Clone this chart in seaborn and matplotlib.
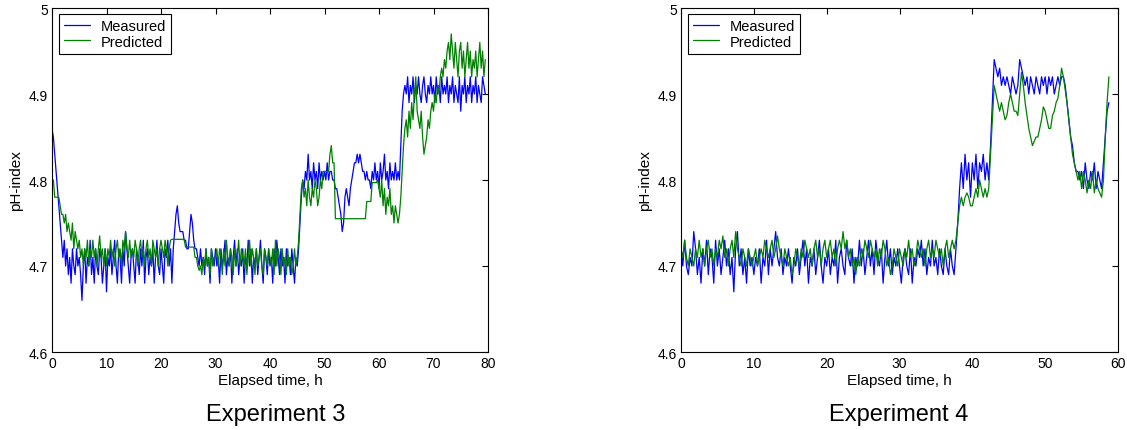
import numpy as np
import pandas as pd
import matplotlib
matplotlib.use("Agg")
import matplotlib.pyplot as plt
import seaborn as sns

# Sampling interval of the logged pH values, hours
STEP_H = 0.25

# Experiment 3 (0 .. 79.5 h)
exp3_measured = [
    4.86, 4.85, 4.83, 4.81, 4.79, 4.77, 4.75, 4.73, 4.71, 4.73, 4.70, 4.72, 4.69, 4.71, 4.68, 4.72, 4.70, 4.69, 4.72, 4.70,
    4.71, 4.69, 4.66, 4.70, 4.72, 4.68, 4.71, 4.70, 4.73, 4.69, 4.71, 4.68, 4.72, 4.70, 4.69, 4.72, 4.71, 4.68, 4.70, 4.72,
    4.67, 4.71, 4.70, 4.72, 4.69, 4.71, 4.73, 4.70, 4.68, 4.72, 4.71, 4.68, 4.72, 4.70, 4.74, 4.72, 4.70, 4.68, 4.71, 4.72,
    4.70, 4.68, 4.72, 4.71, 4.69, 4.72, 4.70, 4.73, 4.68, 4.71, 4.72, 4.69, 4.71, 4.70, 4.72, 4.68, 4.71, 4.73, 4.70, 4.69,
    4.72, 4.70, 4.68, 4.72, 4.71, 4.73, 4.70, 4.72, 4.68, 4.72, 4.74, 4.76, 4.77, 4.75, 4.74, 4.74, 4.74, 4.73, 4.73, 4.72,
    4.72, 4.74, 4.76, 4.75, 4.73, 4.72, 4.72, 4.71, 4.70, 4.72, 4.70, 4.71, 4.69, 4.72, 4.70, 4.71, 4.68, 4.72, 4.71, 4.70,
    4.72, 4.70, 4.71, 4.68, 4.72, 4.70, 4.71, 4.73, 4.69, 4.71, 4.70, 4.72, 4.68, 4.71, 4.73, 4.70, 4.72, 4.69, 4.71, 4.70,
    4.72, 4.68, 4.71, 4.70, 4.73, 4.70, 4.72, 4.68, 4.71, 4.70, 4.72, 4.69, 4.71, 4.73, 4.70, 4.68, 4.72, 4.71, 4.69, 4.72,
    4.70, 4.71, 4.68, 4.72, 4.70, 4.73, 4.71, 4.69, 4.72, 4.70, 4.71, 4.68, 4.72, 4.70, 4.71, 4.69, 4.72, 4.70, 4.68, 4.71,
    4.70, 4.72, 4.75, 4.78, 4.80, 4.79, 4.81, 4.80, 4.83, 4.80, 4.81, 4.79, 4.82, 4.80, 4.81, 4.79, 4.82, 4.80, 4.81, 4.80,
    4.81, 4.80, 4.82, 4.80, 4.81, 4.81, 4.80, 4.80, 4.79, 4.79, 4.78, 4.77, 4.76, 4.74, 4.75, 4.78, 4.79, 4.78, 4.77, 4.79,
    4.80, 4.81, 4.82, 4.82, 4.83, 4.82, 4.83, 4.82, 4.81, 4.81, 4.80, 4.81, 4.80, 4.80, 4.79, 4.81, 4.80, 4.82, 4.80, 4.81,
    4.79, 4.82, 4.80, 4.81, 4.83, 4.80, 4.81, 4.79, 4.82, 4.80, 4.81, 4.80, 4.82, 4.80, 4.81, 4.80, 4.84, 4.88, 4.90, 4.91,
    4.90, 4.92, 4.89, 4.91, 4.90, 4.92, 4.89, 4.91, 4.90, 4.92, 4.90, 4.89, 4.91, 4.92, 4.90, 4.89, 4.91, 4.90, 4.92, 4.90,
    4.91, 4.89, 4.92, 4.90, 4.91, 4.89, 4.92, 4.90, 4.91, 4.90, 4.92, 4.89, 4.91, 4.90, 4.92, 4.89, 4.91, 4.90, 4.89, 4.92,
    4.88, 4.91, 4.90, 4.92, 4.89, 4.91, 4.90, 4.92, 4.89, 4.91, 4.90, 4.92, 4.89, 4.91, 4.90, 4.89, 4.92, 4.91, 4.90,
]
exp3_predicted = [
    4.80, 4.80, 4.78, 4.78, 4.78, 4.78, 4.77, 4.76, 4.76, 4.75, 4.76, 4.74, 4.75, 4.74, 4.73, 4.75, 4.72, 4.74, 4.73, 4.72,
    4.73, 4.71, 4.72, 4.70, 4.72, 4.71, 4.73, 4.70, 4.72, 4.71, 4.73, 4.71, 4.72, 4.70, 4.72, 4.735, 4.71, 4.72, 4.70, 4.72,
    4.70, 4.72, 4.71, 4.73, 4.71, 4.72, 4.70, 4.72, 4.73, 4.71, 4.72, 4.70, 4.73, 4.72, 4.74, 4.72, 4.71, 4.73, 4.71, 4.72,
    4.71, 4.73, 4.72, 4.70, 4.72, 4.73, 4.71, 4.72, 4.70, 4.72, 4.73, 4.71, 4.72, 4.70, 4.73, 4.72, 4.71, 4.72, 4.70, 4.72,
    4.73, 4.72, 4.71, 4.73, 4.72, 4.70, 4.72, 4.73, 4.731, 4.731, 4.731, 4.731, 4.731, 4.731, 4.731, 4.731, 4.731, 4.731, 4.722, 4.722,
    4.722, 4.722, 4.722, 4.722, 4.722, 4.71, 4.71, 4.70, 4.695, 4.70, 4.69, 4.71, 4.70, 4.72, 4.70, 4.71, 4.69, 4.72, 4.70, 4.71,
    4.71, 4.72, 4.70, 4.72, 4.71, 4.69, 4.72, 4.70, 4.73, 4.71, 4.70, 4.72, 4.71, 4.69, 4.72, 4.70, 4.71, 4.73, 4.70, 4.72,
    4.71, 4.70, 4.72, 4.69, 4.71, 4.73, 4.70, 4.72, 4.71, 4.69, 4.72, 4.70, 4.71, 4.72, 4.70, 4.69, 4.72, 4.71, 4.70, 4.72,
    4.71, 4.70, 4.72, 4.69, 4.73, 4.70, 4.72, 4.71, 4.69, 4.72, 4.70, 4.71, 4.69, 4.72, 4.70, 4.71, 4.69, 4.70, 4.72, 4.70,
    4.71, 4.73, 4.76, 4.79, 4.80, 4.78, 4.79, 4.77, 4.80, 4.78, 4.77, 4.79, 4.78, 4.80, 4.79, 4.77, 4.78, 4.80, 4.79, 4.81,
    4.81, 4.81, 4.81, 4.81, 4.83, 4.84, 4.82, 4.82, 4.755, 4.755, 4.755, 4.755, 4.755, 4.755, 4.755, 4.755, 4.755, 4.755, 4.755, 4.755,
    4.755, 4.755, 4.755, 4.755, 4.755, 4.755, 4.755, 4.755, 4.755, 4.755, 4.755, 4.775, 4.775, 4.775, 4.775, 4.797, 4.797, 4.797, 4.797, 4.80,
    4.79, 4.78, 4.80, 4.77, 4.79, 4.76, 4.78, 4.77, 4.79, 4.76, 4.77, 4.75, 4.77, 4.76, 4.75, 4.76, 4.78, 4.81, 4.84, 4.86,
    4.87, 4.85, 4.88, 4.86, 4.89, 4.87, 4.90, 4.92, 4.88, 4.87, 4.86, 4.88, 4.85, 4.83, 4.84, 4.85, 4.87, 4.86, 4.88, 4.89,
    4.88, 4.90, 4.89, 4.91, 4.90, 4.92, 4.93, 4.92, 4.94, 4.93, 4.95, 4.96, 4.94, 4.97, 4.95, 4.93, 4.96, 4.94, 4.92, 4.95,
    4.96, 4.93, 4.95, 4.92, 4.94, 4.96, 4.93, 4.95, 4.92, 4.94, 4.93, 4.95, 4.92, 4.94, 4.96, 4.93, 4.95, 4.92, 4.94,
]

# Experiment 4 (0 .. 58.75 h)
exp4_measured = [
    4.72, 4.70, 4.73, 4.70, 4.69, 4.71, 4.70, 4.74, 4.72, 4.69, 4.71, 4.68, 4.72, 4.70, 4.73, 4.69, 4.72, 4.71, 4.68, 4.73,
    4.70, 4.72, 4.69, 4.71, 4.73, 4.70, 4.72, 4.69, 4.71, 4.67, 4.72, 4.74, 4.70, 4.72, 4.69, 4.71, 4.68, 4.72, 4.70, 4.71,
    4.69, 4.71, 4.70, 4.72, 4.68, 4.71, 4.70, 4.73, 4.69, 4.72, 4.70, 4.72, 4.74, 4.71, 4.70, 4.72, 4.69, 4.71, 4.70, 4.72,
    4.70, 4.68, 4.71, 4.70, 4.72, 4.69, 4.71, 4.73, 4.70, 4.72, 4.68, 4.71, 4.70, 4.72, 4.69, 4.71, 4.73, 4.70, 4.68, 4.71,
    4.70, 4.72, 4.69, 4.71, 4.70, 4.73, 4.68, 4.71, 4.72, 4.70, 4.69, 4.73, 4.71, 4.70, 4.72, 4.68, 4.71, 4.70, 4.73, 4.70,
    4.72, 4.69, 4.71, 4.73, 4.70, 4.72, 4.69, 4.73, 4.71, 4.70, 4.72, 4.68, 4.71, 4.73, 4.70, 4.72, 4.69, 4.71, 4.70, 4.72,
    4.70, 4.68, 4.71, 4.72, 4.70, 4.69, 4.72, 4.68, 4.71, 4.70, 4.72, 4.71, 4.73, 4.70, 4.72, 4.69, 4.71, 4.70, 4.73, 4.70,
    4.71, 4.69, 4.72, 4.70, 4.69, 4.72, 4.70, 4.69, 4.72, 4.70, 4.69, 4.72, 4.75, 4.79, 4.82, 4.79, 4.83, 4.80, 4.82, 4.78,
    4.82, 4.80, 4.83, 4.79, 4.82, 4.81, 4.83, 4.80, 4.82, 4.80, 4.84, 4.89, 4.94, 4.93, 4.92, 4.93, 4.91, 4.92, 4.91, 4.92,
    4.91, 4.90, 4.92, 4.91, 4.90, 4.91, 4.94, 4.93, 4.92, 4.91, 4.92, 4.90, 4.92, 4.91, 4.90, 4.92, 4.91, 4.90, 4.92, 4.91,
    4.92, 4.90, 4.92, 4.91, 4.92, 4.90, 4.91, 4.92, 4.91, 4.92, 4.92, 4.91, 4.89, 4.87, 4.85, 4.84, 4.82, 4.81, 4.81, 4.80,
    4.81, 4.79, 4.82, 4.80, 4.79, 4.81, 4.80, 4.82, 4.79, 4.81, 4.80, 4.79, 4.82, 4.85, 4.88, 4.89,
]
exp4_predicted = [
    4.72, 4.71, 4.73, 4.71, 4.70, 4.72, 4.71, 4.70, 4.72, 4.71, 4.73, 4.71, 4.72, 4.70, 4.72, 4.73, 4.71, 4.72, 4.70, 4.72,
    4.71, 4.73, 4.72, 4.735, 4.71, 4.72, 4.70, 4.72, 4.73, 4.71, 4.74, 4.72, 4.71, 4.70, 4.72, 4.71, 4.70, 4.72, 4.71, 4.70,
    4.71, 4.72, 4.70, 4.71, 4.72, 4.71, 4.73, 4.72, 4.71, 4.72, 4.73, 4.71, 4.72, 4.735, 4.72, 4.71, 4.70, 4.72, 4.71, 4.70,
    4.71, 4.69, 4.70, 4.72, 4.71, 4.70, 4.72, 4.71, 4.73, 4.72, 4.71, 4.72, 4.70, 4.72, 4.73, 4.71, 4.72, 4.70, 4.72, 4.73,
    4.71, 4.72, 4.73, 4.71, 4.72, 4.70, 4.72, 4.73, 4.72, 4.74, 4.72, 4.73, 4.71, 4.72, 4.70, 4.71, 4.69, 4.71, 4.70, 4.72,
    4.71, 4.73, 4.72, 4.71, 4.73, 4.72, 4.71, 4.72, 4.70, 4.72, 4.71, 4.73, 4.72, 4.70, 4.71, 4.69, 4.70, 4.72, 4.71, 4.70,
    4.72, 4.71, 4.70, 4.72, 4.71, 4.73, 4.71, 4.72, 4.70, 4.71, 4.73, 4.72, 4.71, 4.72, 4.70, 4.72, 4.73, 4.71, 4.72, 4.71,
    4.73, 4.72, 4.71, 4.72, 4.70, 4.72, 4.73, 4.71, 4.72, 4.73, 4.72, 4.73, 4.75, 4.77, 4.78, 4.77, 4.78, 4.785, 4.78, 4.77,
    4.77, 4.78, 4.79, 4.78, 4.80, 4.79, 4.78, 4.79, 4.78, 4.79, 4.83, 4.87, 4.91, 4.90, 4.89, 4.88, 4.89, 4.88, 4.87, 4.875,
    4.89, 4.90, 4.89, 4.88, 4.88, 4.875, 4.90, 4.925, 4.91, 4.89, 4.875, 4.86, 4.85, 4.84, 4.845, 4.85, 4.85, 4.86, 4.87, 4.885,
    4.88, 4.87, 4.86, 4.86, 4.875, 4.88, 4.89, 4.895, 4.91, 4.93, 4.92, 4.905, 4.89, 4.87, 4.85, 4.83, 4.82, 4.81, 4.80, 4.81,
    4.79, 4.81, 4.80, 4.785, 4.80, 4.79, 4.81, 4.785, 4.80, 4.79, 4.785, 4.78, 4.80, 4.85, 4.89, 4.92,
]

series_names = ["Measured", "Predicted"]
series_colors = {"Measured": "#0000ff", "Predicted": "#008000"}

exp3_x_ticks = [0, 10, 20, 30, 40, 50, 60, 70, 80]
exp4_x_ticks = [0, 10, 20, 30, 40, 50, 60]
y_ticks = [4.6, 4.7, 4.8, 4.9, 5.0]
y_tick_labels = ["4.6", "4.7", "4.8", "4.9", "5"]
panel_titles = ["Experiment 3", "Experiment 4"]


def long_frame(measured, predicted):
    parts = []
    for name, values in zip(series_names, (measured, predicted)):
        parts.append(pd.DataFrame({
            "hours": np.arange(len(values)) * STEP_H,
            "pH": values,
            "series": name,
        }))
    return pd.concat(parts, ignore_index=True)


sns.set_theme(style="white")
plt.rcParams["font.family"] = ["Liberation Sans", "DejaVu Sans"]
plt.rcParams.update({
    "axes.edgecolor": "black",
    "axes.linewidth": 0.8,
    "text.color": "black",
    "axes.labelcolor": "black",
    "xtick.color": "black",
    "ytick.color": "black",
})

fig = plt.figure(figsize=(11.27, 4.31), dpi=100)
W, H = 1127, 431
panels = [
    (52, 436, exp3_measured, exp3_predicted, exp3_x_ticks, 276),
    (681, 437, exp4_measured, exp4_predicted, exp4_x_ticks, 899),
]

for (left_px, width_px, measured, predicted, x_ticks, title_x), title in zip(panels, panel_titles):
    ax = fig.add_axes([left_px / W, (H - 353) / H, width_px / W, 344 / H])
    df = long_frame(measured, predicted)
    sns.lineplot(data=df, x="hours", y="pH", hue="series", hue_order=series_names,
                 palette=series_colors, estimator=None, sort=False,
                 linewidth=0.9, ax=ax)
    ax.set_xlim(x_ticks[0], x_ticks[-1])
    ax.set_ylim(y_ticks[0], y_ticks[-1])
    ax.set_xticks(x_ticks, labels=[str(v) for v in x_ticks])
    ax.set_yticks(y_ticks, labels=y_tick_labels)
    ax.tick_params(direction="in", top=True, right=True, length=4, width=0.8,
                   labelsize=10, pad=3, colors="black")
    for spine in ax.spines.values():
        spine.set_visible(True)
        spine.set_color("black")
        spine.set_linewidth(0.8)
    ax.set_xlabel("Elapsed time, h", fontsize=11, labelpad=2, color="black")
    ax.set_ylabel("pH-index", fontsize=11, color="black")
    ax.yaxis.set_label_coords(-0.066, 0.5)

    handles, labels = ax.get_legend_handles_labels()
    leg = ax.legend(handles, labels, loc="upper left",
                    bbox_to_anchor=(7 / width_px, 1 - 6 / 344),
                    borderaxespad=0, frameon=True, fancybox=False,
                    edgecolor="black", framealpha=1, fontsize=10.5,
                    handlelength=1.8, handletextpad=0.7, borderpad=0.35,
                    labelspacing=0.1, labelcolor="black")
    leg.get_frame().set_linewidth(0.8)
    for line in leg.get_lines():
        line.set_linewidth(0.9)

    fig.text(title_x / W, 1 - 415 / H, title, ha="center", va="center",
             fontsize=17, color="black")

fig.savefig("out.png", dpi=100)
